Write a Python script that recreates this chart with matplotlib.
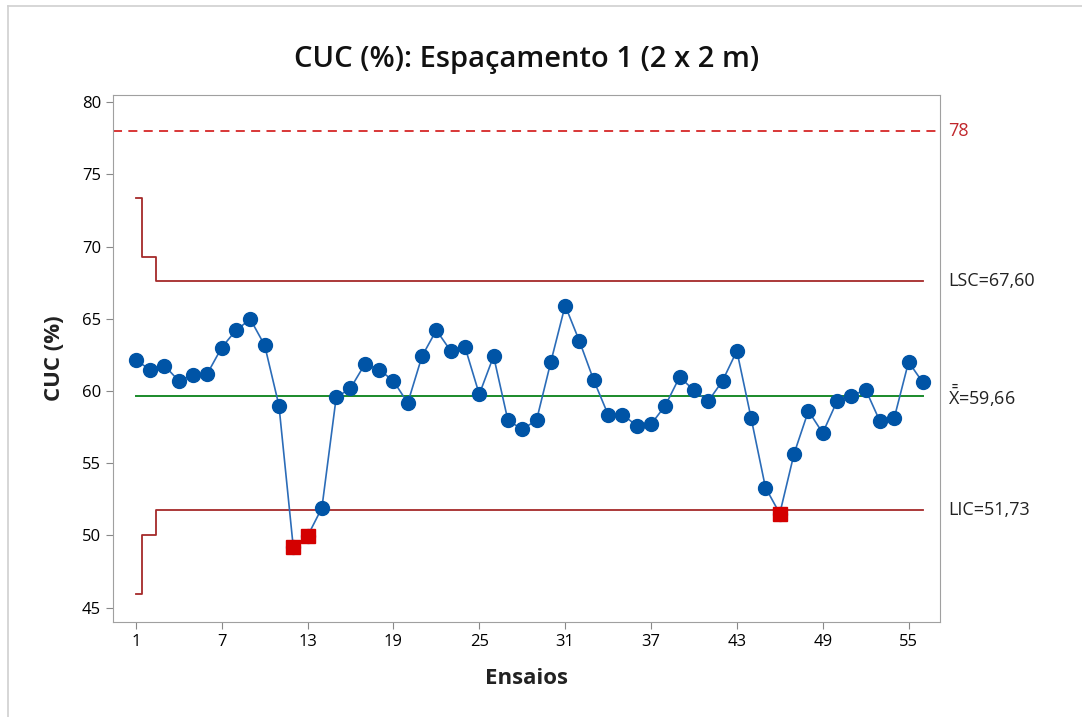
import matplotlib
matplotlib.use("Agg")
import matplotlib.pyplot as plt
from matplotlib.lines import Line2D

plt.rcParams['font.family'] = ['Open Sans', 'DejaVu Sans']
plt.rcParams['mathtext.fontset'] = 'custom'
plt.rcParams['mathtext.rm'] = 'Open Sans'

# observed CUC (%) per trial
ensaios = list(range(1, 57))
cuc = [
    62.13, 61.48, 61.76, 60.70, 61.09, 61.21, 63.01, 64.21, 64.97, 63.17,
    58.99, 49.19, 49.95, 51.90, 59.55, 60.19, 61.85, 61.48, 60.70, 59.17,
    62.41, 64.21, 62.78, 63.05, 59.77, 62.41, 57.97, 57.35, 57.97, 62.01,
    65.92, 63.45, 60.74, 58.37, 58.37, 57.60, 57.69, 58.99, 60.97, 60.05,
    59.29, 60.70, 62.78, 58.11, 53.31, 51.51, 55.66, 58.62, 57.09, 59.29,
    59.64, 60.10, 57.90, 58.13, 62.01, 60.59,
]
out_of_control = [12, 13, 46]

# control limits (staged at the first trials)
lsc_x = [1, 1.4, 1.4, 2.4, 2.4, 56]
lsc_y = [73.4, 73.4, 69.3, 69.3, 67.60, 67.60]
lic_x = [1, 1.4, 1.4, 2.4, 2.4, 56]
lic_y = [45.92, 45.92, 50.02, 50.02, 51.73, 51.73]
media = 59.66
meta = 78

x_ticks = [1, 7, 13, 19, 25, 31, 37, 43, 49, 55]
y_ticks = [45, 50, 55, 60, 65, 70, 75, 80]

blue = '#0054a6'
line_blue = '#2b6cb8'
limit_red = '#a52a2a'
green = '#1a8a2a'

fig = plt.figure(figsize=(10.82, 7.17), dpi=100)
ax = fig.add_axes([0.1044, 0.1325, 0.7644, 0.735])

# window border (top and left only, as in the screenshot)
fig.add_artist(Line2D([8 / 1082, 8 / 1082], [0, 1 - 6 / 717], transform=fig.transFigure,
                      color='#d0d0d0', lw=1.2))
fig.add_artist(Line2D([8 / 1082, 1], [1 - 6 / 717, 1 - 6 / 717], transform=fig.transFigure,
                      color='#d0d0d0', lw=1.2))

ax.axhline(meta, color='#d62728', lw=1.3, ls=(0, (5, 3.5)))
ax.plot(lsc_x, lsc_y, color=limit_red, lw=1.3)
ax.plot(lic_x, lic_y, color=limit_red, lw=1.3)
ax.plot([1, 56], [media, media], color=green, lw=1.4)

ax.plot(ensaios, cuc, color=line_blue, lw=1.2, zorder=3)
ax.plot(ensaios, cuc, ls='none', marker='o', ms=10, color=blue, zorder=4)
ax.plot(out_of_control, [cuc[i - 1] for i in out_of_control], ls='none', marker='s',
        ms=9.5, color='#d40000', zorder=5)

ax.set_xlim(-0.6, 57.2)
ax.set_ylim(44.0, 80.5)
ax.set_xticks(x_ticks)
ax.set_yticks(y_ticks)
ax.tick_params(axis='both', labelsize=12, color='#888888', length=5)
for s in ax.spines.values():
    s.set_color('#a0a0a0')

ax.set_xlabel('Ensaios', fontsize=16, fontweight='bold', color='#222222', labelpad=13)
ax.set_ylabel('CUC (%)', fontsize=16, fontweight='bold', color='#222222', labelpad=12)
ax.set_title('CUC (%): Espaçamento 1 (2 x 2 m)', fontsize=21, fontweight='semibold',
             pad=20, color='#111111')

# right-side labels
tr = ax.get_yaxis_transform()
ax.text(1.01, meta, '78', transform=tr, color='#c0262b', fontsize=13, va='center')
ax.text(1.01, 67.60, 'LSC=67,60', transform=tr, color='#222222', fontsize=13, va='center')
ax.text(1.01, media, r'$\bar{\bar{\mathrm{X}}}$=59,66', transform=tr, color='#222222',
        fontsize=13, va='center')
ax.text(1.01, 51.73, 'LIC=51,73', transform=tr, color='#222222', fontsize=13, va='center')

fig.savefig('out.png', dpi=100)
